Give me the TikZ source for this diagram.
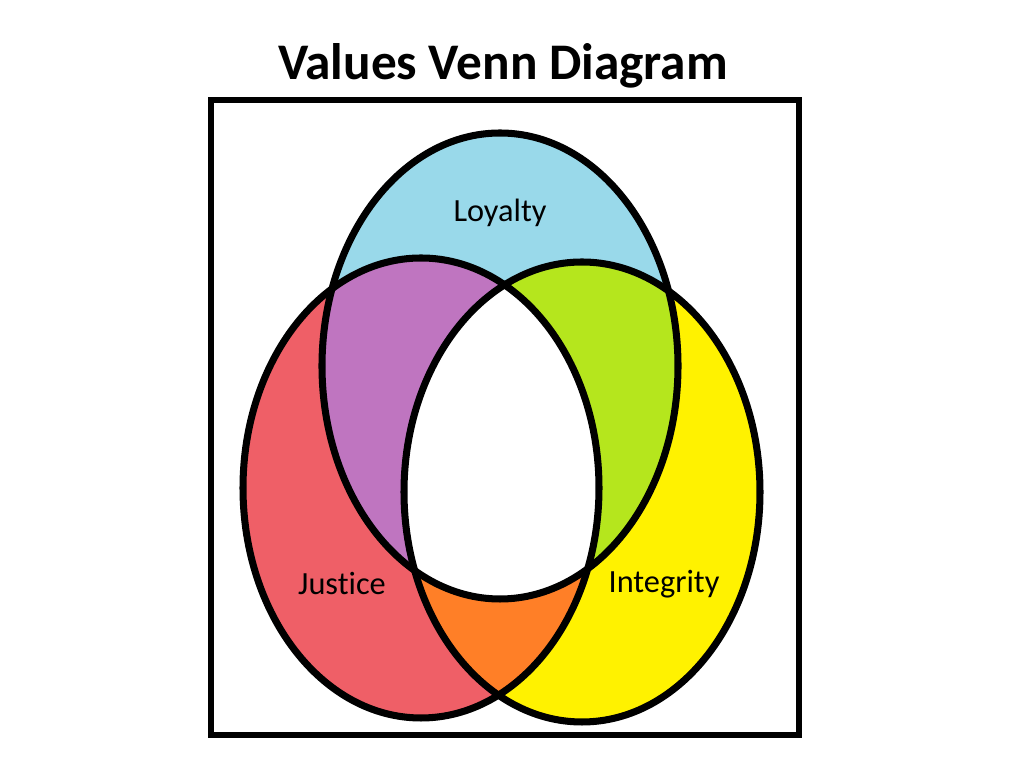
\documentclass[tikz,border=0pt]{standalone}
\usepackage{fontspec}
\setmainfont{Carlito}[Ligatures=NoCommon]

\definecolor{loyalblue}{HTML}{99D9EA}
\definecolor{justred}{HTML}{EF5F67}
\definecolor{integyellow}{HTML}{FFF200}
\definecolor{pairpurple}{HTML}{BF75C0}
\definecolor{pairgreen}{HTML}{B5E61D}
\definecolor{pairorange}{HTML}{FF7F27}

\begin{document}
\begin{tikzpicture}[
	setline/.style={line width=2pt},
	setlabel/.style={font=\fontsize{9.2}{11}\selectfont}]
		\useasboundingbox (0,0) rectangle (10.24,7.68);
		\def\loyaltyset{(5.00,4.02) ellipse [x radius=1.78, y radius=2.33]}
		\def\justiceset{(4.21,2.80) ellipse [x radius=1.78, y radius=2.30]}
		\def\integrityset{(5.82,2.76) ellipse [x radius=1.78, y radius=2.30]}

		\node (title) at (5.03,7.02) {\fontsize{14.6}{18}\selectfont\bfseries Values Venn Diagram};
		\draw[line width=1.45pt] (2.11,6.68) rectangle (7.99,0.33);

		% single sets
		\fill[loyalblue] \loyaltyset;
		\fill[justred] \justiceset;
		\fill[integyellow] \integrityset;

		% two sets
		\begin{scope}
			\clip \loyaltyset;
			\fill[pairpurple] \justiceset;
			\fill[pairgreen] \integrityset;
		\end{scope}
		\begin{scope}
			\clip \justiceset;
			\fill[pairorange] \integrityset;
		\end{scope}

		% all three
		\begin{scope}
			\clip \loyaltyset;
			\clip \justiceset;
			\fill[white] \integrityset;
		\end{scope}

		\draw[setline] \loyaltyset;
		\draw[setline] \justiceset;
		\draw[setline] \integrityset;

		\node[setlabel] (loyalty) at (5.00,5.55) {Loyalty};
		\node[setlabel] (justice) at (3.42,1.84) {Justice};
		\node[setlabel] (integrity) at (6.64,1.84) {Integrity};
	\end{tikzpicture}
\end{document}
